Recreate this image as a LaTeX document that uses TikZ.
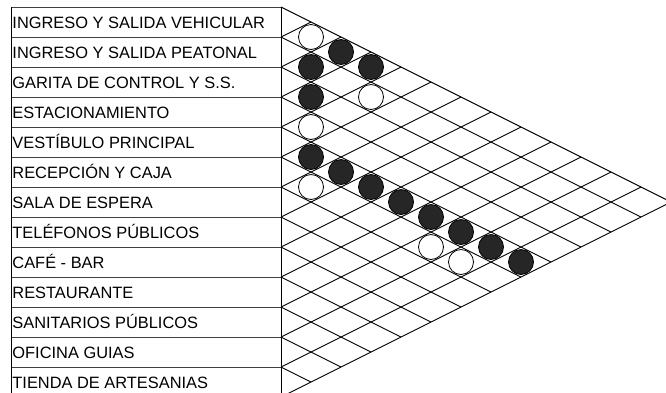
\documentclass[tikz,border=0pt]{standalone}
\usepackage{fontspec}
\setmainfont{Liberation Sans}
\begin{document}
\begin{tikzpicture}[x=1pt,y=-1pt, line width=0.9pt,
  lbl/.style={anchor=base west, inner sep=0pt, font=\fontsize{16.4}{18}\selectfont},
  fullc/.style={circle, draw=black, fill=black!85, line width=0.8pt, minimum size=25pt, inner sep=0pt},
  openc/.style={circle, draw=black, fill=white, line width=0.8pt, minimum size=25pt, inner sep=0pt}]
\useasboundingbox (0,0) rectangle (666,392);
\clip (0,0) rectangle (666,392);
\fill[white] (0,0) rectangle (666,392);
% table
\foreach \k in {0,...,13} \draw[black!75] (11,7+30*\k) -- (281,7+30*\k);
\draw (11,7) -- (11,397);
\draw (281,7) -- (281,397);
% lattice
\foreach \k in {0,...,12} \draw ({281},{7+30*\k}) -- ({671-30*\k},{202+15*\k});
\foreach \k in {1,...,13} \draw ({281},{7+30*\k}) -- ({281+30*\k},{7+15*\k});
% labels
\foreach \i/\t in {0/INGRESO Y SALIDA VEHICULAR,1/INGRESO Y SALIDA PEATONAL,2/GARITA DE CONTROL Y S.S.,3/ESTACIONAMIENTO,4/VESTÍBULO PRINCIPAL,5/RECEPCIÓN Y CAJA,6/SALA DE ESPERA,7/TELÉFONOS PÚBLICOS,8/CAFÉ - BAR,9/RESTAURANTE,10/SANITARIOS PÚBLICOS,11/OFICINA GUIAS,12/TIENDA DE ARTESANIAS}
  \node[lbl] (r\i) at (12,{28+30*\i}) {\t};
% relations
\foreach \a/\b in {0/1,1/4,3/4,5/6,5/10,5/11}
  \node[openc] (o\a-\b) at ({281+30*(\b-\a)},{22+15*(\a+\b)}) {};
\foreach \a/\b in {0/2,1/2,0/3,2/3,4/5,4/6,4/7,4/8,4/9,4/10,4/11,4/12}
  \node[fullc] (f\a-\b) at ({281+30*(\b-\a)},{22+15*(\a+\b)}) {};
\end{tikzpicture}
\end{document}
